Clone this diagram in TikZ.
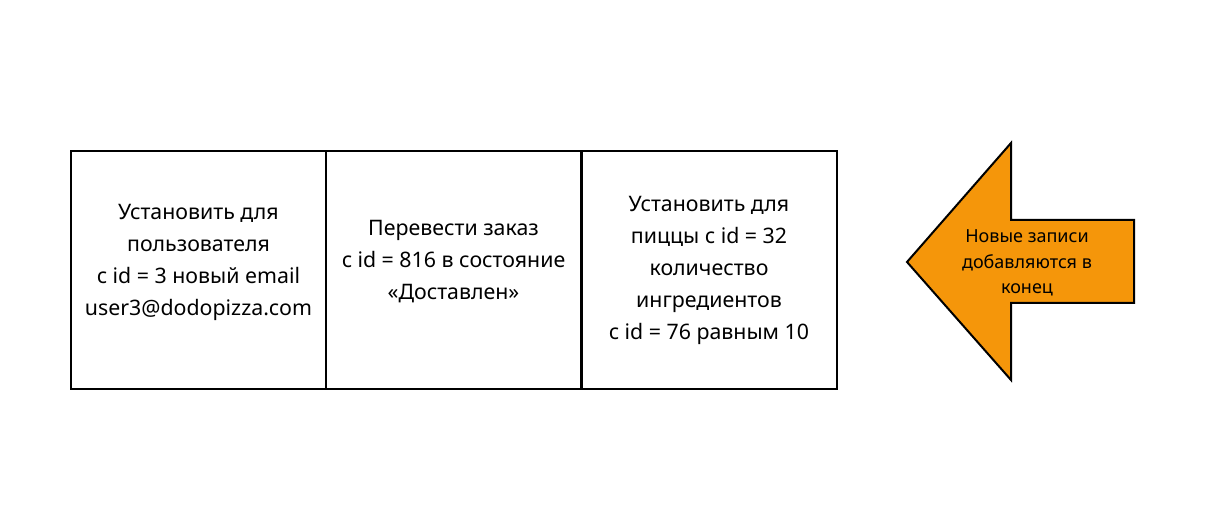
\documentclass[tikz,border=0pt]{standalone}
\usepackage{fontspec}
\setmainfont{Noto Sans}
\usepackage{xcolor}
\usepackage{tikz}
\usetikzlibrary{calc}

\definecolor{arroworange}{RGB}{245,150,10}

\begin{document}
\begin{tikzpicture}[x=0.75pt,y=-0.75pt]
    \tikzstyle{record}=[draw=black,line width=1.5pt,minimum width=255*0.75pt,minimum height=238*0.75pt,inner sep=0pt]
    \tikzstyle{record text}=[align=center,font=\fontsize{16}{24}\selectfont]
    \tikzstyle{banner}=[draw=black,line width=1.5pt,fill=arroworange,line join=miter]
    \tikzstyle{banner text}=[align=center,font=\fontsize{13.5}{19}\selectfont]

    \useasboundingbox (0,0) rectangle (1227,530);

	\coordinate (r_1) at (198.5,270);
	\coordinate (r_2) at (453.5,270);
	\coordinate (r_3) at (709,270);

	\coordinate (tip) at (907,262);
	\coordinate (head_top) at (1011,143);
	\coordinate (head_bottom) at (1011,380);

    % Records
	\node[style=record] (rec_1) at (r_1) {};
	\node[style=record] (rec_2) at (r_2) {};
	\node[style=record] (rec_3) at (r_3) {};

	\node[style=record text] (txt_1) at ($(r_1)+(0,-8)$) {Установить для\\пользователя\\c id = 3 новый email\\user3@dodopizza.com};
	\node[style=record text] (txt_2) at ($(r_2)+(0,-8)$) {Перевести заказ\\c id = 816 в состояние\\«Доставлен»};
	\node[style=record text] (txt_3) at (r_3) {Установить для\\пиццы c id = 32\\количество\\ингредиентов\\c id = 76 равным 10};

    % Arrow
	\filldraw[style=banner] (tip) -- (head_top) -- (1011,220) -- (1134,220)
	                        -- (1134,303) -- (1011,303) -- (head_bottom) -- cycle;
	\node[style=banner text] (new) at (1027,263) {Новые записи\\добавляются в\\конец};

\end{tikzpicture}
\end{document}
